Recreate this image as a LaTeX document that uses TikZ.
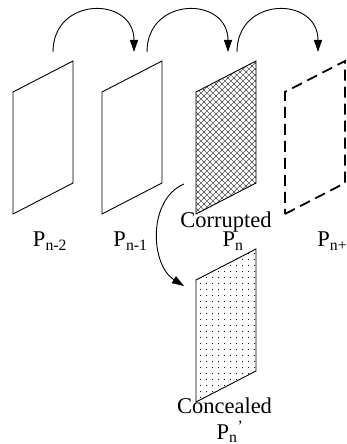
\documentclass[tikz,border=0pt]{standalone}
\usepackage{fontspec}
\setmainfont{Liberation Serif}
\usetikzlibrary{arrows.meta,patterns.meta}

% Fill patterns
\tikzdeclarepattern{
  name=xhatch, type=uncolored,
  bottom left={(-1pt,-1pt)}, top right={(7pt,7pt)},
  tile size={(6pt,6pt)},
  code={\tikzset{x=1pt,y=1pt}
    \draw[line width=0.5pt] (-1,-1) -- (7,7) (-1,7) -- (7,-1);}
}
\tikzdeclarepattern{
  name=pdots, type=uncolored,
  bottom left={(0pt,0pt)}, top right={(5.5pt,5.5pt)},
  tile size={(5.5pt,5.5pt)},
  code={\fill (2.75pt,2.75pt) circle (0.6pt);}
}

% One frame, given by its lower left corner
\newcommand{\drawpage}[2][]{%
  \draw[#1] (#2) -- ++(60,31) -- ++(0,122) -- ++(-60,-31) -- cycle;}

\begin{document}
\begin{tikzpicture}[x=1pt, y=1pt, line width=0.9pt,
  >={Triangle[length=12pt,width=8pt]},
  lbl/.style={anchor=base, inner sep=0pt, font=\fontsize{22.5}{24}\selectfont}]
  \path[use as bounding box] (0,0) rectangle (346,444);
  \clip (0,0) rectangle (346,444);

  % Frames
  \drawpage{13,230}
  \drawpage{102,230}
  \drawpage[pattern=xhatch, pattern color=black!65]{196,230}
  \drawpage[line width=1.8pt, dash pattern=on 11pt off 6pt]{285,230}
  \drawpage[pattern=pdots]{196,42}

  % Ends of the arcs
  \coordinate (s1) at (53,392);  \coordinate (e1) at (134,392);
  \coordinate (s2) at (147,392); \coordinate (e2) at (228,392);
  \coordinate (s3) at (237,392); \coordinate (e3) at (318,392);
  \foreach \i in {1,2,3}
    \draw[->] (s\i) .. controls +(0,56) and +(0,56) .. (e\i);

  % Concealment arrow
  \coordinate (cs) at (184,260);
  \coordinate (ce) at (184,158);
  \draw[->] (cs) to[out=203,in=148] (ce);

  % Labels
  \node[lbl] (pn2) at (50,197) {P\textsubscript{n-2}};
  \node[lbl] (pn1) at (130.5,197) {P\textsubscript{n-1}};
  \node[lbl] (corr) at (226,216) {Corrupted};
  \node[lbl] (pn) at (233,197) {P\textsubscript{n}};
  \node[lbl, anchor=base west] (pn3) at (317,197) {P\textsubscript{n+}};
  \node[lbl] (conc) at (224.5,30) {Concealed};
  \node[lbl] (pnc) at (230,5) {P\textsubscript{n}\textsuperscript{’}};
\end{tikzpicture}
\end{document}
